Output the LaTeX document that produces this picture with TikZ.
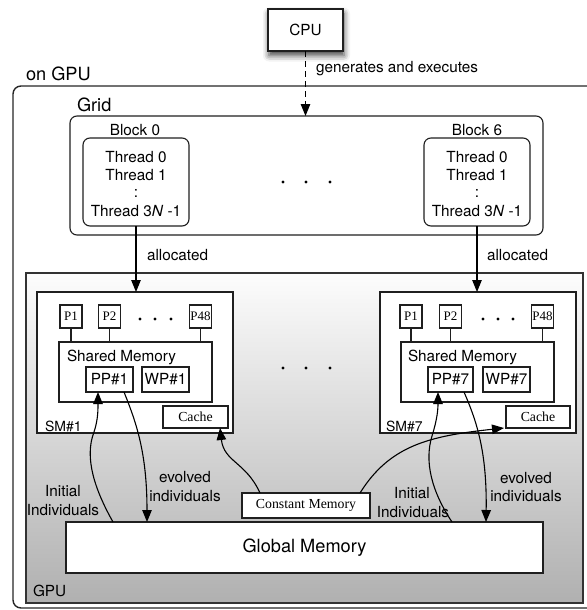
\documentclass[tikz,border=0pt]{standalone}
\usepackage{fontspec}
\setmainfont{TeX Gyre Heros}
\newfontfamily\timesf{Liberation Serif}
\usetikzlibrary{arrows.meta,shadows.blur,calc}
\begin{document}
\begin{tikzpicture}[x=1pt,y=-1pt,
  every node/.style={inner sep=0pt, outer sep=0pt, text=black},
  sz/.style 2 args={minimum width=#1pt, minimum height=#2pt},
  box/.style={draw=black!88, line width=1.1pt, fill=white},
  rbox/.style={box, rounded corners=7pt},
  txt/.style={font=\fontsize{15.3}{19}\selectfont},
  big/.style={font=\fontsize{18.2}{22}\selectfont},
  ser/.style={font=\timesf\fontsize{13.8}{16}\selectfont},
  pbox/.style={box, sz={22}{23}, font=\timesf\fontsize{13}{15}\selectfont},
  arr/.style={-{Triangle[length=12pt,width=9.5pt]}, line width=1.1pt, draw=black},
  dotn/.style={circle, fill=black, minimum size=3.2pt},
  plink/.style={line width=1.1pt, draw=black!88},
]
\useasboundingbox (0,0) rectangle (586,610);

% outer GPU container
\node[draw=black!85, line width=1.4pt, rounded corners=8pt, fill=white, sz={584}{522}] (outer) at (305,347) {};
\node[big, anchor=base west] (ongpu) at (26,80) {on GPU};

% CPU
\node[box, sz={75}{42}, txt, blur shadow={shadow xshift=1pt, shadow yshift=-4.5pt, shadow blur radius=6pt, shadow opacity=75}] (cpu) at (305.5,30) {CPU};

% Grid
\node[rbox, sz={473}{119}] (grid) at (306.5,175.5) {};
\node[big, anchor=base west] (gridl) at (77,111) {Grid};
\draw[arr, dash pattern=on 6pt off 4pt] (cpu.south) -- (cpu.south |- grid.north);
\node[txt, anchor=base west] (gen) at (316,73) {generates and executes};

% Blocks
\node[rbox, sz={106}{88}] (b0) at (136,182) {};
\node[txt, anchor=base] (b0l) at (135,135) {Block 0};
\node[txt, anchor=base] (b0t0) at (136,162) {Thread 0};
\node[txt, anchor=base] (b0t1) at (136,180) {Thread 1};
\node[txt, anchor=base] (b0tc) at (136,197) {:};
\node[txt, anchor=base] (b0tn) at (136,216) {Thread 3\textit{N} -1};

\node[rbox, sz={106}{88}] (b6) at (477,182) {};
\node[txt, anchor=base] (b6l) at (477,135) {Block 6};
\node[txt, anchor=base] (b6t0) at (477,162) {Thread 0};
\node[txt, anchor=base] (b6t1) at (477,180) {Thread 1};
\node[txt, anchor=base] (b6tc) at (477,197) {:};
\node[txt, anchor=base] (b6tn) at (477,216) {Thread 3\textit{N} -1};

\node[dotn] (gd1) at (283,182) {};
\node[dotn] (gd2) at (306,182) {};
\node[dotn] (gd3) at (330,182) {};

% GPU panel
\node[draw=black!80, line width=1.1pt, top color=gray!2, bottom color=gray!62, sz={557}{330}] (panel) at (304.5,438) {};
\node[txt, anchor=base west] (gpul) at (33,596) {GPU};

% SM 1
\node[box, sz={196}{141}] (sm1) at (135,362.5) {};
\node[box, sz={153}{60}] (sh1) at (135.5,372) {};
\node[txt, anchor=base west] (sh1l) at (67,361) {Shared Memory};
\node[box, sz={47}{25}, txt] (pp1) at (109.5,379.5) {PP\#1};
\node[box, sz={47}{25}, txt] (wp1) at (165.5,379.5) {WP\#1};
\node[box, sz={65}{22}, ser] (cache1) at (195.5,417) {Cache};
\node[font=\fontsize{14}{17}\selectfont, anchor=base west] (sm1l) at (45,431) {SM\#1};
\node[pbox] (p1a) at (71,316.5) {P1};
\node[pbox] (p1b) at (109.5,316.5) {P2};
\node[pbox] (p1c) at (200.5,316.5) {P48};
\draw[plink] (p1a.south) -- (p1a.south |- sh1.north);
\draw[plink] (p1b.south) -- (p1b.south |- sh1.north);
\draw[plink] (p1c.south) -- (p1c.south |- sh1.north);
\node[dotn] (s1d1) at (140,319) {};
\node[dotn] (s1d2) at (155,319) {};
\node[dotn] (s1d3) at (171,319) {};

% SM 7
\node[box, sz={196}{141}] (sm7) at (478,362.5) {};
\node[box, sz={153}{60}] (sh7) at (477.5,372) {};
\node[txt, anchor=base west] (sh7l) at (408,361) {Shared Memory};
\node[box, sz={45}{25}, txt] (pp7) at (450.5,379.5) {PP\#7};
\node[box, sz={47}{25}, txt] (wp7) at (506.5,379.5) {WP\#7};
\node[box, sz={64}{22}, ser] (cache7) at (538,417) {Cache};
\node[font=\fontsize{14}{17}\selectfont, anchor=base west] (sm7l) at (386,431) {SM\#7};
\node[pbox] (p7a) at (411,316.5) {P1};
\node[pbox] (p7b) at (450.5,316.5) {P2};
\node[pbox] (p7c) at (542.5,316.5) {P48};
\draw[plink] (p7a.south) -- (p7a.south |- sh7.north);
\draw[plink] (p7b.south) -- (p7b.south |- sh7.north);
\draw[plink] (p7c.south) -- (p7c.south |- sh7.north);
\node[dotn] (s7d1) at (483,319) {};
\node[dotn] (s7d2) at (498,319) {};
\node[dotn] (s7d3) at (513,319) {};

\node[dotn] (md1) at (283,368) {};
\node[dotn] (md2) at (306,368) {};
\node[dotn] (md3) at (330,368) {};

% allocation arrows
\draw[arr] (b0.south) -- (b0.south |- sm1.north);
\draw[arr] (b6.south) -- (b6.south |- sm7.north);
\node[txt, anchor=base west] (al1) at (147,260) {allocated};
\node[txt, anchor=base west] (al7) at (487,260) {allocated};

% memories
\node[box, sz={128}{25}, ser] (cmem) at (306,505.5) {Constant Memory};
\node[box, sz={477}{51}, big] (glob) at (304.5,547.5) {Global Memory};

% curved arrows SM1
\draw[arr] ([xshift=47pt]glob.north west) .. controls (95,490) and (84,458) .. (94,432) .. controls (98,420) and (98,410) .. ([xshift=12pt]pp1.south west);
\draw[arr] ([xshift=38pt]pp1.south west) .. controls (136,422) and (147,452) .. ([xshift=81pt]glob.north west);
\draw[arr] ([xshift=18pt]cmem.north west) .. controls (246,462) and (224,462) .. ([xshift=57pt]cache1.south west);
% SM7
\draw[arr] ([xshift=118pt]cmem.north west) .. controls (390,445) and (430,436) .. ([xshift=-2pt]cache7.south west);
\draw[arr] ([xshift=386pt]glob.north west) .. controls (432,492) and (424,462) .. (432,436) .. controls (437,420) and (438,410) .. ([xshift=10pt]pp7.south west);
\draw[arr] ([xshift=36pt]pp7.south west) .. controls (477,422) and (487,452) .. ([xshift=420pt]glob.north west);

\node[txt, anchor=base] (ini1a) at (63,496) {Initial};
\node[txt, anchor=base] (ini1b) at (63,515) {Individuals};
\node[txt, anchor=base] (evo1a) at (185,482) {evolved};
\node[txt, anchor=base] (evo1b) at (185,501) {individuals};
\node[txt, anchor=base] (ini7a) at (412,498) {Initial};
\node[txt, anchor=base] (ini7b) at (413,517) {Individuals};
\node[txt, anchor=base] (evo7a) at (526,483) {evolved};
\node[txt, anchor=base] (evo7b) at (526,501) {individuals};
\end{tikzpicture}
\end{document}
